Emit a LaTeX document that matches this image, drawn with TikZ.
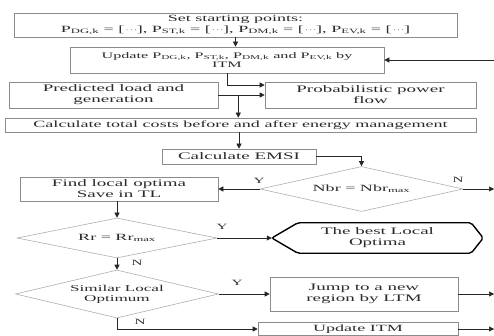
\documentclass[tikz,border=0pt]{standalone}
\usepackage{fontspec}
\setmainfont{Liberation Serif}[FakeStretch=1.9]
\usepackage{xcolor}
\usepackage{tikz}
\usetikzlibrary{arrows.meta, shapes.geometric, calc}
\definecolor{boxGray}{HTML}{8C8C8C}
\definecolor{textDark}{HTML}{2A2A2A}

\begin{document}
\begin{tikzpicture}[x=1pt, y=-1pt,
    box/.style={draw=boxGray, line width=0.6pt, inner sep=0pt, align=center, text=textDark, font=\fontsize{10}{11}\selectfont},
    dec/.style={diamond, draw=boxGray!70, line width=0.6pt, inner sep=0pt, shape aspect=4.5, align=center, text=textDark, font=\fontsize{9.5}{10.5}\selectfont},
    arr/.style={-{Triangle[length=5pt, width=5pt]}, line width=0.6pt, black!85},
    yn/.style={font=\fontsize{8}{8}\selectfont, text=textDark, inner sep=0pt}]
        \useasboundingbox (0,0) rectangle (494,336);
        \clip (0,0) rectangle (494,336);
        % process boxes
        \node[box, minimum width=443pt, minimum height=24pt, font=\fontsize{9.5}{10.5}\selectfont] (start) at (235.5,25)
            {Set starting points:\\P\textsubscript{DG,k} = [\,$\cdots$], P\textsubscript{ST,k} = [\,$\cdots$], P\textsubscript{DM,k} = [\,$\cdots$], P\textsubscript{EV,k} = [\,$\cdots$]};
        \node[box, minimum width=314pt, minimum height=26pt, font=\fontsize{8.5}{9.5}\selectfont] (upd) at (227,60)
            {Update P\textsubscript{DG,k}, P\textsubscript{ST,k}, P\textsubscript{DM,k} and P\textsubscript{EV,k} by\\ITM};
        \node[box, minimum width=209pt, minimum height=26pt] (pred) at (113.5,95) {Predicted load and\\generation};
        \node[box, minimum width=211pt, minimum height=26pt] (ppf) at (370.5,95) {Probabilistic power\\flow};
        \node[box, minimum width=471pt, minimum height=14pt, font=\fontsize{9.5}{10}\selectfont] (cost) at (240.5,125)
            {Calculate total costs before and after energy management};
        \node[box, minimum width=154pt, minimum height=15pt] (emsi) at (239,156.5) {Calculate EMSI};
        % decisions
        \node[dec, minimum width=203pt, minimum height=45pt] (dnbr) at (361.5,189) {Nbr = Nbr\textsubscript{max}};
        \node[box, minimum width=198pt, minimum height=24pt] (find) at (119,189) {Find local optima\\Save in TL};
        \node[dec, minimum width=200pt, minimum height=40pt] (drr) at (117,238) {Rr = Rr\textsubscript{max}};
        \node[align=center, inner sep=0pt, minimum width=211pt, minimum height=30pt, text=textDark, font=\fontsize{10}{11}\selectfont] (best) at (377.5,238)
            {The best Local\\Optima};
        \draw[line width=1.4pt, rounded corners=2pt] (best.west) -- ([xshift=26pt]best.north west) -- ([xshift=-12pt]best.north east)
            -- (best.east) -- ([xshift=-12pt]best.south east) -- ([xshift=26pt]best.south west) -- cycle;
        \node[dec, minimum width=203pt, minimum height=48pt, font=\fontsize{9}{10}\selectfont] (dsim) at (117,294) {Similar Local\\Optimum};
        \node[box, minimum width=188pt, minimum height=34pt] (jump) at (364,294) {Jump to a new\\region by LTM};
        \node[box, minimum width=200pt, minimum height=13pt, font=\fontsize{9.5}{10}\selectfont] (itm) at (358,329) {Update ITM};
        % free ends at the right margin
        \coordinate (inUpd) at (494,60);
        \coordinate (outNbr) at (494,189);
        \coordinate (outJump) at (494,294);
        \coordinate (outItm) at (494,329);
        \coordinate (jn) at ($(pred.east)!0.43!(ppf.west)$);
        % connectors
        \draw[arr] (start.south) -- (start.south |- upd.north);
        \draw[arr] (inUpd) -- (upd.east);
        \draw[arr] (upd.south) |- ([yshift=10pt]ppf.west);
        \draw[arr] (pred.east) -- (ppf.west);
        \draw[arr] (jn) -- (jn |- cost.north);
        \draw[arr] (emsi.north |- cost.south) -- (emsi.north);
        \draw[arr] (emsi.east) -| (dnbr.north);
        \draw[arr] (dnbr.west) -- (find.east);
        \draw[arr] (dnbr.east) -- (outNbr);
        \draw[arr] (drr.north |- find.south) -- (drr.north);
        \draw[arr] (drr.east) -- (best.west);
        \draw[arr] (drr.south) -- (dsim.north);
        \draw[arr] (dsim.east) -- (jump.west);
        \draw[arr] (dsim.south) |- (itm.west);
        \draw[arr] (itm.east) -- (outItm);
        \draw[arr] (jump.east) -- (outJump);
        % branch labels
        \node[yn] (y1) at (259,181) {Y};
        \node[yn] (n1) at (458,180) {N};
        \node[yn] (y2) at (222,227) {Y};
        \node[yn] (n2) at (137,263) {N};
        \node[yn] (y3) at (237,283) {Y};
        \node[yn] (n3) at (140,322) {N};
      \end{tikzpicture}
\end{document}
